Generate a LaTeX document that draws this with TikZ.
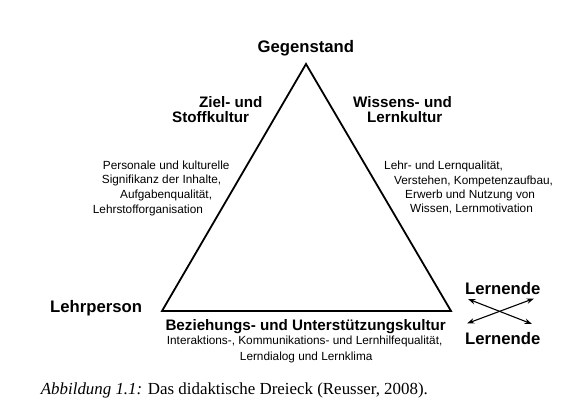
\documentclass[tikz,border=0pt]{standalone}
\usepackage{fontspec}
\setmainfont{Liberation Serif}
\newfontfamily\arialfont{Liberation Sans}
\usetikzlibrary{arrows.meta}
\tikzset{
  big/.style={inner sep=0pt, font=\arialfont\bfseries\fontsize{16.7}{20}\selectfont},
  mid/.style={inner sep=0pt, font=\arialfont\bfseries\fontsize{15.2}{18}\selectfont},
  small/.style={inner sep=0pt, font=\arialfont\fontsize{11.8}{14}\selectfont},
  tri/.style={line width=1.8pt, line join=miter},
  dbl/.style={line width=1.1pt, {Stealth[length=7.5pt,width=5.5pt]}-{Stealth[length=7.5pt,width=5.5pt]}},
}
\begin{document}
\begin{tikzpicture}[x=1pt,y=-1pt]
\useasboundingbox[fill=white] (0,0) rectangle (571,417);
% triangle
\coordinate (top) at (306,64);
\coordinate (bl) at (162,311);
\coordinate (br) at (451,311);
\draw[tri] (top) -- (br) -- (bl) -- cycle;
% corner labels
\node[big] (geg) at (305.8,48.3) {Gegenstand};
\node[big, anchor=west] (lehr) at (50,307.7) {Lehrperson};
\node[big, anchor=west] (ln1) at (465,288.5) {Lernende};
\node[big, anchor=west] (ln2) at (465,339) {Lernende};
% side titles
\node[mid, anchor=west] (z1) at (199,101.7) {Ziel- und};
\node[mid, anchor=west] (z2) at (172,117.3) {Stoffkultur};
\node[mid, anchor=west] (w1) at (353,101.7) {Wissens- und};
\node[mid, anchor=west] (w2) at (367,117.3) {Lernkultur};
\node[mid, anchor=west] (bz) at (165.3,326.7) {Beziehungs- und Unterstützungskultur};
% left block
\node[small, anchor=west] (l1) at (102.7,165) {Personale und kulturelle};
\node[small, anchor=west] (l2) at (101.7,180.7) {Signifikanz der Inhalte,};
\node[small, anchor=west] (l3) at (120,195) {Aufgabenqualität,};
\node[small, anchor=west] (l4) at (92.7,210) {Lehrstofforganisation};
% right block
\node[small, anchor=west] (r1) at (384,166.7) {Lehr- und Lernqualität,};
\node[small, anchor=west] (r2) at (394,181) {Verstehen, Kompetenzaufbau,};
\node[small, anchor=west] (r3) at (405,195) {Erwerb und Nutzung von};
\node[small, anchor=west] (r4) at (410,209.3) {Wissen, Lernmotivation};
% bottom block
\node[small, anchor=west] (b1) at (166.7,341.7) {Interaktions-, Kommunikations- und Lernhilfequalität,};
\node[small] (b2) at (306.2,357.3) {Lerndialog und Lernklima};
% cross arrows
\coordinate (a1) at (468,299);
\coordinate (a2) at (532,324);
\coordinate (a3) at (467,323.5);
\coordinate (a4) at (534,298.5);
\draw[dbl] (a1) -- (a2);
\draw[dbl] (a3) -- (a4);
% caption
\node[inner sep=0pt, anchor=west, font=\fontsize{16.9}{20}\selectfont] (cap) at (40.7,390) {\textit{Abbildung 1.1:} Das didaktische Dreieck (Reusser, 2008).};
\end{tikzpicture}
\end{document}
